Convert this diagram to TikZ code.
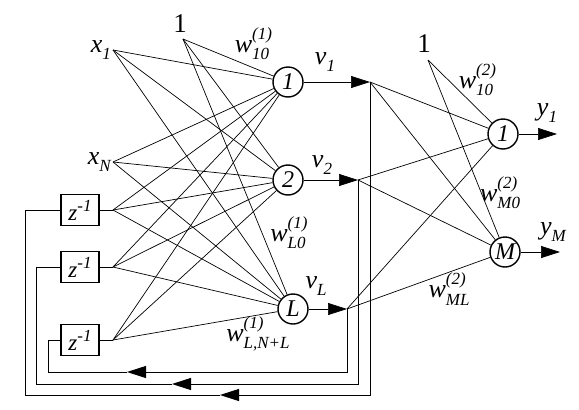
\documentclass[tikz,border=0pt]{standalone}
\usepackage{fontspec}
\setmainfont{Liberation Serif}
\usetikzlibrary{arrows.meta}

\newcommand{\scr}{\fontsize{17}{17}\selectfont\itshape}
\newcommand{\slab}[2]{\textit{#1}\raisebox{-0.28em}{\scr #2}}
\newcommand{\wlab}[2]{\textit{w}\rlap{\raisebox{0.5em}{\scr(#1)}}\raisebox{-0.28em}{\scr #2}}

\begin{document}
\begin{tikzpicture}[x=1pt, y=-1pt]
	\tikzstyle{every node}=[font=\fontsize{26}{28}\selectfont\itshape]
	\tikzstyle{neuron}=[draw, circle, line width=1.4pt, minimum size=30pt, inner sep=0pt, font=\fontsize{24}{24}\selectfont\itshape]
	\tikzstyle{delay}=[draw, line width=1.5pt, minimum width=38pt, minimum height=31pt, inner sep=0pt, font=\fontsize{23}{24}\selectfont\itshape]
	\tikzstyle{syn}=[line width=0.7pt]
	\tikzstyle{fb}=[line width=1pt]
	\tikzstyle{tip}=[-{Triangle[length=19pt,width=12pt]}]

	\useasboundingbox (0,0) rectangle (579,410);

	%inputs
	\coordinate (x1) at (113,50);
	\coordinate (xN) at (113,162);
	\coordinate (b1) at (183,39);
	\node[anchor=east, inner sep=2pt] at (x1) {\slab{x}{1}};
	\node[anchor=east, inner sep=2pt] at (xN) {\slab{x}{N}};
	\node[font=\fontsize{27}{28}\selectfont] at (180,24) {1};

	%delays
	\node[delay] (z1) at (80,210) {z\raisebox{0.4em}{\scr -1}};
	\node[delay] (z2) at (80,267) {z\raisebox{0.4em}{\scr -1}};
	\node[delay] (z3) at (80,340) {z\raisebox{0.4em}{\scr -1}};
	\coordinate (d1) at (113,210);
	\coordinate (d2) at (113,267);
	\coordinate (d3) at (113,340);
	\foreach \k in {1,2,3}
		\draw[syn] (z\k) -- (d\k);

	%hidden layer
	\node[neuron] (h1) at (288,82) {1};
	\node[neuron] (h2) at (288,180) {2};
	\node[neuron] (hL) at (293,309) {L};
	\foreach \i in {x1,b1,xN,d1,d2,d3}
		\foreach \h in {h1,h2,hL}
			\draw[syn] (\i) -- (\h);

	%hidden outputs
	\coordinate (v1) at (370,82);
	\coordinate (v2) at (358,180);
	\coordinate (vL) at (347,309);
	\draw[syn,tip] (h1) -- (v1);
	\draw[syn,tip] (h2) -- (v2);
	\draw[syn,tip] (hL) -- (vL);

	%output layer
	\coordinate (b2) at (428,60);
	\node[font=\fontsize{27}{28}\selectfont] at (424,44) {1};
	\node[neuron] (o1) at (503,134) {1};
	\node[neuron] (oM) at (505,252) {M};
	\foreach \v in {v1,v2,vL,b2}
		\foreach \o in {o1,oM}
			\draw[syn] (\v) -- (\o);
	\coordinate (y1) at (557,134);
	\coordinate (yM) at (560,252);
	\draw[syn,tip] (o1) -- (y1);
	\draw[syn,tip] (oM) -- (yM);

	%feedback
	\coordinate (c1) at (240,395);
	\coordinate (a1) at (220,395);
	\coordinate (k1) at (25,210);
	\coordinate (c2) at (192,384);
	\coordinate (a2) at (172,384);
	\coordinate (k2) at (36,267);
	\coordinate (c3) at (147,372);
	\coordinate (a3) at (127,372);
	\coordinate (k3) at (48,340);
	\foreach \k/\v in {1/v1,2/v2,3/vL}{
		\draw[fb] (\v) |- (c\k);
		\draw[fb,tip] (c\k) -- (a\k);
		\draw[fb] (a\k) -| (k\k) -- (z\k);
	}

	%labels
	\node at (252,44) {\wlab{1}{10}};
	\node at (288,233) {\wlab{1}{L0}};
	\node at (258,334) {\wlab{1}{L,N+L}};
	\node at (476,80) {\wlab{2}{10}};
	\node at (500,193) {\wlab{2}{M0}};
	\node at (449,289) {\wlab{2}{ML}};
	\node at (325,62) {\slab{v}{1}};
	\node at (322,165) {\slab{v}{2}};
	\node at (316,286) {\slab{v}{L}};
	\node at (547,113) {\slab{y}{1}};
	\node at (553,232) {\slab{y}{M}};
\end{tikzpicture}
\end{document}
